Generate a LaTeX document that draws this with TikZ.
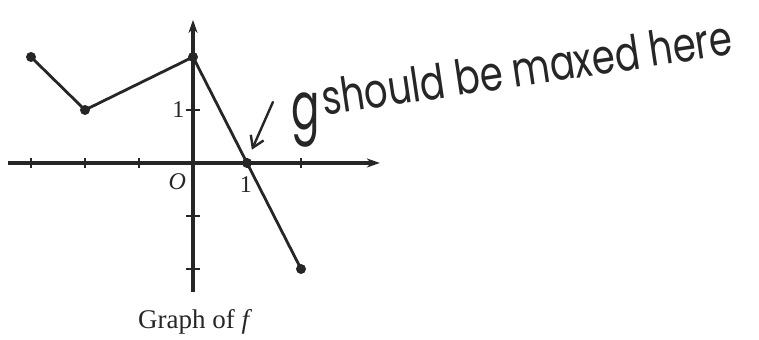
\documentclass[tikz,border=0pt]{standalone}
\usepackage{fontspec}
\setmainfont{Liberation Serif}
\newfontfamily\handfont{Poppins}
\usetikzlibrary{positioning,arrows.meta}

\begin{document}
\begin{tikzpicture}[
  x=54pt, y=53pt,
  axis/.style={line width=3.2pt, black!85, -{Stealth[length=13pt, width=9pt]}},
  tick/.style={line width=1.6pt, black!85},
  curve/.style={line width=2.8pt, black!85, line join=round},
  dot/.style={circle, fill=black!85, inner sep=0pt, minimum size=10pt},
  lbl/.style={font=\fontsize{24}{24}\selectfont, text=black!85, inner sep=1pt},
  hand/.style={font=\handfont\fontsize{37}{37}\selectfont, text=black!85, inner sep=0pt},
]
\useasboundingbox (-3.574,-3.321) rectangle (10.481,3.075);
% ---- axes ----
\coordinate (xl) at (-3.43,0);
\coordinate (xr) at (3.46,0);
\coordinate (yb) at (0,-2.43);
\coordinate (yt) at (0,2.70);
\draw[axis] (xl) -- (xr);
\draw[axis] (yb) -- (yt);
\foreach \x in {-3,-2,-1,1,2}
  \draw[tick] (\x,-0.1) -- (\x,0.1);
\foreach \y in {-2,-1,1}
  \draw[tick] (-0.13,\y) -- (0.13,\y);
\node[lbl, font=\fontsize{24}{24}\selectfont\itshape] (o) at (-0.29,-0.36) {O};
\node[lbl] (xone) at (0.98,-0.40) {1};
\node[lbl] (yone) at (-0.27,1.0) {1};
% ---- graph of f ----
\node[dot] (p1) at (-3,2) {};
\node[dot] (p2) at (-2,1) {};
\node[dot] (p3) at (0,2) {};
\node[dot] (p4) at (1,0) {};
\node[dot] (p5) at (2,-2) {};
\draw[curve] (p1.center) -- (p2.center) -- (p3.center) -- (p4.center) -- (p5.center);
\node[lbl, font=\fontsize{27}{27}\selectfont] (cap) at (0.04,-3.0) {Graph of \textit{f}};
% ---- handwritten note ----
\coordinate (hs) at (1.48,1.15);
\coordinate (ht) at (1.09,0.25);
\draw[line width=2.4pt, black!85, line cap=round, -{Straight Barb[length=11pt, width=14pt]}] (hs) -- (ht);
\node[hand, font=\handfont\fontsize{60}{60}\selectfont, anchor=base, xscale=0.7, yscale=1.1] (g) at (2.09,0.64) {g};
\node[hand, anchor=base west, rotate=8.5, yscale=1.3] (note) at (2.43,0.89) {should be maxed here};
\end{tikzpicture}
\end{document}
